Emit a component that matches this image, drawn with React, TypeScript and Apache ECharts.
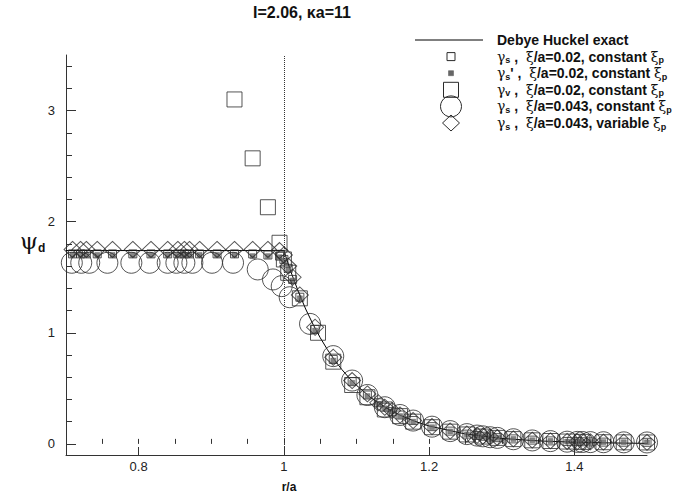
import React, { useEffect, useRef } from "react";
import * as echarts from "echarts";

const titleText = "I=2.06, κa=11";
const xMajorTicks = [0.8, 1, 1.2, 1.4];
const xMinorTicks = [0.7, 0.75, 0.8, 0.85, 0.9, 0.95, 1, 1.05, 1.1, 1.15, 1.2, 1.25, 1.3, 1.35, 1.4, 1.45, 1.5];
const yMajorTicks = [0, 1, 2, 3];
const yMinorTicks = [0, 0.2, 0.4, 0.6, 0.8, 1, 1.2, 1.4, 1.6, 1.8, 2, 2.2, 2.4, 2.6, 2.8, 3, 3.2, 3.4];

// Debye Huckel exact
const exactX = [0.7, 1.0, 1.01, 1.02, 1.03, 1.04, 1.05, 1.06, 1.07, 1.08, 1.09, 1.1, 1.12, 1.14, 1.16, 1.18, 1.2, 1.25, 1.3, 1.35, 1.4, 1.45, 1.5];
const exactY = [1.74, 1.74, 1.543, 1.369, 1.214, 1.078, 0.956, 0.848, 0.753, 0.668, 0.593, 0.527, 0.415, 0.327, 0.258, 0.204, 0.161, 0.089, 0.049, 0.027, 0.015, 0.0085, 0.0047];

// shared node positions for the xi/a = 0.02 runs and the variable-xi run
const nodeX = [0.709, 0.72, 0.728, 0.743, 0.764, 0.792, 0.817, 0.84, 0.854, 0.863, 0.87, 0.884, 0.908, 0.932, 0.957, 0.978, 0.994, 1.0, 1.006, 1.012, 1.022, 1.043, 1.068, 1.094, 1.115, 1.13, 1.139, 1.149, 1.16, 1.178, 1.204, 1.229, 1.252, 1.266, 1.274, 1.284, 1.294, 1.316, 1.342, 1.367, 1.39, 1.404, 1.411, 1.422, 1.44, 1.468, 1.5];
const gammaS002 = [1.71, 1.71, 1.71, 1.71, 1.71, 1.71, 1.71, 1.71, 1.71, 1.71, 1.71, 1.71, 1.71, 1.71, 1.71, 1.7, 1.69, 1.66, 1.58, 1.48, 1.32, 1.03, 0.76, 0.56, 0.44, 0.37, 0.33, 0.29, 0.26, 0.21, 0.155, 0.115, 0.088, 0.076, 0.069, 0.062, 0.056, 0.045, 0.034, 0.027, 0.022, 0.02, 0.019, 0.018, 0.016, 0.015, 0.014];
const gammaSp002 = [1.7, 1.7, 1.7, 1.7, 1.7, 1.7, 1.7, 1.7, 1.7, 1.7, 1.7, 1.7, 1.7, 1.7, 1.69, 1.69, 1.68, 1.65, 1.57, 1.47, 1.31, 1.02, 0.75, 0.55, 0.43, 0.36, 0.32, 0.29, 0.25, 0.2, 0.15, 0.112, 0.086, 0.074, 0.067, 0.06, 0.054, 0.044, 0.033, 0.026, 0.021, 0.019, 0.018, 0.017, 0.016, 0.015, 0.014];
const gammaS043var = [1.75, 1.75, 1.75, 1.75, 1.75, 1.75, 1.75, 1.75, 1.75, 1.75, 1.75, 1.75, 1.75, 1.75, 1.75, 1.75, 1.74, 1.7, 1.6, 1.5, 1.34, 1.05, 0.78, 0.57, 0.45, 0.37, 0.33, 0.3, 0.26, 0.21, 0.156, 0.116, 0.089, 0.077, 0.07, 0.063, 0.056, 0.045, 0.034, 0.027, 0.022, 0.02, 0.019, 0.018, 0.016, 0.015, 0.014];

// gamma_v, xi/a = 0.02
const gammaVX = [0.932, 0.957, 0.978, 0.994, 1.0, 1.006, 1.022, 1.047, 1.068, 1.094, 1.115, 1.139, 1.16, 1.178, 1.204, 1.229, 1.252, 1.274, 1.294, 1.316, 1.342, 1.367, 1.39, 1.411, 1.44, 1.468, 1.5];
const gammaVY = [3.1, 2.57, 2.13, 1.81, 1.66, 1.54, 1.31, 1.0, 0.74, 0.53, 0.42, 0.31, 0.25, 0.2, 0.15, 0.11, 0.085, 0.066, 0.054, 0.043, 0.032, 0.026, 0.021, 0.018, 0.015, 0.014, 0.013];

// gamma_s, xi/a = 0.043, constant xi_p
const circleX = [0.708, 0.721, 0.732, 0.757, 0.79, 0.815, 0.84, 0.852, 0.863, 0.874, 0.901, 0.93, 0.964, 0.985, 0.997, 1.008, 1.036, 1.068, 1.094, 1.115, 1.139, 1.16, 1.178, 1.204, 1.229, 1.252, 1.266, 1.274, 1.284, 1.294, 1.316, 1.342, 1.367, 1.39, 1.404, 1.411, 1.422, 1.44, 1.468, 1.5];
const circleY = [1.63, 1.63, 1.63, 1.63, 1.63, 1.63, 1.63, 1.63, 1.63, 1.63, 1.63, 1.63, 1.57, 1.48, 1.42, 1.32, 1.08, 0.79, 0.57, 0.44, 0.33, 0.26, 0.21, 0.155, 0.115, 0.088, 0.075, 0.068, 0.06, 0.054, 0.042, 0.031, 0.025, 0.02, 0.018, 0.017, 0.016, 0.015, 0.014, 0.013];

const legendRows = [
  "{t|Debye Huckel exact}",
  "{g|γ}{s|s}{t| ,  }{g|ξ}{t|/a=0.02, constant }{g|ξ}{s|p}",
  "{g|γ}{s|s}{t|' ,  }{g|ξ}{t|/a=0.02, constant }{g|ξ}{s|p}",
  "{g|γ}{s|v}{t| ,  }{g|ξ}{t|/a=0.02, constant }{g|ξ}{s|p}",
  "{g|γ}{s|s}{t| ,  }{g|ξ}{t|/a=0.043, constant }{g|ξ}{s|p}",
  "{g|γ}{s|s}{t| ,  }{g|ξ}{t|/a=0.043, variable }{g|ξ}{s|p}",
];

const FONT = "'Liberation Sans', Arial, Helvetica, sans-serif";
const INK = "#2a2a2a";

const pairs = (xs: number[], ys: number[]) => xs.map((x, i) => [x, ys[i]]);

export default function App() {
  const ref = useRef<HTMLDivElement>(null);
  useEffect(() => {
    if (!ref.current) return;
    const chart = echarts.init(ref.current, undefined, { renderer: "svg" });

    const legendX = 451;
    const legendY0 = 40;
    const legendDy = 16.6;
    const textX = 497;
    const rich = {
      t: { fontFamily: FONT, fontWeight: "bold", fontSize: 14, lineHeight: 16, verticalAlign: "middle", fill: "#111" },
      g: { fontFamily: "'DejaVu Serif', serif", fontSize: 14, lineHeight: 16, verticalAlign: "middle", fill: "#111" },
      s: { fontFamily: FONT, fontWeight: "bold", fontSize: 9, lineHeight: 8, verticalAlign: "bottom", fill: "#111" },
    };
    const legendGraphics: any[] = legendRows.map((txt, i) => ({
      type: "text",
      x: textX,
      y: legendY0 + i * legendDy,
      style: { text: txt, rich, verticalAlign: "middle", textVerticalAlign: "middle" },
      z: 10,
    }));
    const iconStyle = { fill: "none", stroke: INK, lineWidth: 1 };
    legendGraphics.push(
      { type: "line", shape: { x1: 415, y1: legendY0, x2: 483, y2: legendY0 }, style: { stroke: "#000", lineWidth: 1 } },
      { type: "rect", shape: { x: legendX - 4, y: legendY0 + legendDy - 4, width: 8, height: 8 }, style: iconStyle },
      { type: "rect", shape: { x: legendX - 2.5, y: legendY0 + 2 * legendDy - 2.5, width: 5, height: 5 }, style: { fill: "#666", stroke: "#555", lineWidth: 0.5 } },
      { type: "rect", shape: { x: legendX - 7.5, y: legendY0 + 3 * legendDy - 7.5, width: 15, height: 15 }, style: iconStyle },
      { type: "circle", shape: { cx: legendX, cy: legendY0 + 4 * legendDy, r: 10.5 }, style: iconStyle },
      {
        type: "polygon",
        shape: {
          points: [
            [legendX, legendY0 + 5 * legendDy - 8],
            [legendX + 8.5, legendY0 + 5 * legendDy],
            [legendX, legendY0 + 5 * legendDy + 8],
            [legendX - 8.5, legendY0 + 5 * legendDy],
          ],
        },
        style: iconStyle,
      }
    );

    const hollow = { color: "transparent", borderColor: INK, borderWidth: 1 };

    const option: any = {
      animation: false,
      grid: { left: 66, right: 35, top: 55, bottom: 43, containLabel: false, show: false },
      xAxis: [
        {
          type: "value",
          min: 0.7,
          max: 1.5,
          interval: 0.05,
          position: "bottom",
          axisLine: { show: true, onZero: false, lineStyle: { color: "#333", width: 1 } },
          axisTick: { show: true, inside: true, length: 8, customValues: xMajorTicks, lineStyle: { color: "#333" } },
          axisLabel: { show: true, customValues: xMajorTicks, formatter: (v: number) => String(v), color: "#222", fontSize: 13, fontFamily: FONT, margin: 5 },
          splitLine: { show: false },
        },
        {
          type: "value",
          min: 0.7,
          max: 1.5,
          interval: 0.05,
          position: "bottom",
          axisLine: { show: false },
          axisTick: { show: true, inside: true, length: 5, customValues: xMinorTicks, lineStyle: { color: "#333" } },
          axisLabel: { show: false },
          splitLine: { show: false },
        },
      ],
      yAxis: [
        {
          type: "value",
          min: -0.1,
          max: 3.5,
          interval: 0.1,
          position: "left",
          axisLine: { show: true, onZero: false, lineStyle: { color: "#333", width: 1 } },
          axisTick: { show: true, inside: true, length: 10, customValues: yMajorTicks, lineStyle: { color: "#333" } },
          axisLabel: { show: true, customValues: yMajorTicks, formatter: (v: number) => String(v), color: "#222", fontSize: 13, fontFamily: FONT, margin: 11 },
          splitLine: { show: false },
        },
        {
          type: "value",
          min: -0.1,
          max: 3.5,
          interval: 0.1,
          position: "left",
          axisLine: { show: false },
          axisTick: { show: true, inside: true, length: 6, customValues: yMinorTicks, lineStyle: { color: "#333" } },
          axisLabel: { show: false },
          splitLine: { show: false },
        },
      ],
      graphic: [
        {
          type: "text",
          x: 302,
          y: 12,
          style: { text: titleText, fontFamily: FONT, fontWeight: "bold", fontSize: 16, fill: "#111", textAlign: "center", textVerticalAlign: "middle" },
        },
        {
          type: "text",
          x: 289,
          y: 487,
          style: { text: "r/a", fontFamily: FONT, fontWeight: "bold", fontSize: 12, fill: "#111", textAlign: "center", textVerticalAlign: "middle" },
        },
        {
          type: "text",
          x: 20,
          y: 241,
          style: {
            text: "{p|ψ}{d|d}",
            verticalAlign: "middle",
            textVerticalAlign: "middle",
            rich: {
              p: { fontFamily: "'DejaVu Serif', serif", fontSize: 23, lineHeight: 26, verticalAlign: "middle", fill: "#111" },
              d: { fontFamily: FONT, fontWeight: "bold", fontSize: 12, lineHeight: 12, verticalAlign: "bottom", fill: "#111" },
            },
          },
        },
        ...legendGraphics,
      ],
      series: [
        {
          name: "Debye Huckel exact",
          type: "line",
          data: pairs(exactX, exactY),
          symbol: "none",
          lineStyle: { color: "#000", width: 1 },
          z: 3,
          markLine: {
            silent: true,
            symbol: ["none", "none"],
            label: { show: false },
            lineStyle: { type: "dotted", color: "#333", width: 1 },
            data: [{ xAxis: 1 }],
          },
        },
        {
          name: "gs002",
          type: "scatter",
          data: pairs(nodeX, gammaS002),
          symbol: "rect",
          symbolSize: 8,
          itemStyle: hollow,
          z: 4,
        },
        {
          name: "gsp002",
          type: "scatter",
          data: pairs(nodeX, gammaSp002),
          symbol: "rect",
          symbolSize: 5,
          itemStyle: { color: "#666", borderColor: "#555", borderWidth: 0.5 },
          z: 4,
        },
        {
          name: "gv002",
          type: "scatter",
          data: pairs(gammaVX, gammaVY),
          symbol: "rect",
          symbolSize: 15,
          itemStyle: hollow,
          z: 4,
        },
        {
          name: "gs043c",
          type: "scatter",
          data: pairs(circleX, circleY),
          symbol: "circle",
          symbolSize: 21,
          itemStyle: hollow,
          z: 4,
        },
        {
          name: "gs043v",
          type: "scatter",
          data: pairs(nodeX, gammaS043var),
          symbol: "diamond",
          symbolSize: [17, 16],
          itemStyle: hollow,
          z: 4,
        },
      ],
    };
    chart.setOption(option);
    return () => chart.dispose();
  }, []);

  return <div ref={ref} style={{ width: 682, height: 498, position: "absolute", left: 0, top: 0 }} />;
}
